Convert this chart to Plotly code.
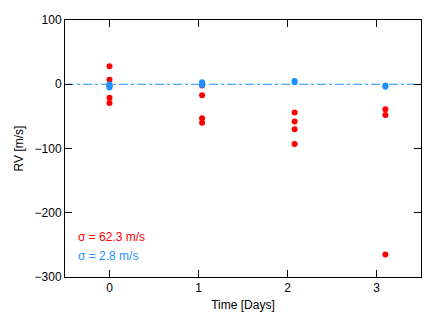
import plotly.graph_objects as go

red_t = [0.0, 0.0, 0.0, 0.0, 0.0, 1.04, 1.04, 1.04, 1.04, 2.08, 2.08, 2.08, 2.08, 3.10, 3.10, 3.10]
red_rv = [28, 7, -2, -21, -29, -2, -17, -53, -60, -44, -58, -70, -93, -39, -48, -265]
blue_t = [0.0, 0.0, 0.0, 1.04, 1.04, 2.08, 2.08, 3.10, 3.10]
blue_rv = [0, -3, -5, 3, -1, 5, 3, -2, -4]
x_range = [-0.5, 3.5]
y_range = [-300, 100]
x_ticks = [0, 1, 2, 3]
y_ticks = [-300, -200, -100, 0, 100]
sigma_red = "σ = 62.3 m/s"
sigma_blue = "σ = 2.8 m/s"

RED = "#ff0000"
BLUE = "#1e90ff"
FONT = "Liberation Sans"

fig = go.Figure()
fig.add_trace(go.Scatter(x=x_range, y=[0, 0], mode="lines",
                         line=dict(color=BLUE, width=1, dash="dashdot"),
                         showlegend=False, hoverinfo="skip"))
fig.add_trace(go.Scatter(x=red_t, y=red_rv, mode="markers",
                         marker=dict(color=RED, size=6), showlegend=False))
fig.add_trace(go.Scatter(x=blue_t, y=blue_rv, mode="markers",
                         marker=dict(color=BLUE, size=6), showlegend=False))

axis_common = dict(showline=True, linecolor="black", linewidth=1, mirror="allticks",
                   ticks="inside", ticklen=7, tickwidth=1, tickcolor="black",
                   showgrid=False, zeroline=False, automargin=False,
                   tickfont=dict(family=FONT, size=12, color="black"))

fig.update_xaxes(range=x_range, tickmode="array", tickvals=x_ticks,
                 title=dict(text="Time [Days]", font=dict(family=FONT, size=12, color="black"), standoff=6),
                 **axis_common)
fig.update_yaxes(range=y_range, tickmode="array", tickvals=y_ticks,
                 title=dict(text="RV [m/s]", font=dict(family=FONT, size=12, color="black"), standoff=8),
                 **axis_common)

fig.add_annotation(x=0.03, y=-237, xref="paper", yref="y", xanchor="left", yanchor="middle",
                   text=sigma_red, showarrow=False, font=dict(family=FONT, size=12, color=RED))
fig.add_annotation(x=0.03, y=-268, xref="paper", yref="y", xanchor="left", yanchor="middle",
                   text=sigma_blue, showarrow=False, font=dict(family=FONT, size=12, color=BLUE))

fig.update_layout(width=432, height=310, margin=dict(l=57, r=19, t=12, b=41),
                  plot_bgcolor="white", paper_bgcolor="white",
                  font=dict(family=FONT, size=12, color="black"))

fig.write_html("out.html")
